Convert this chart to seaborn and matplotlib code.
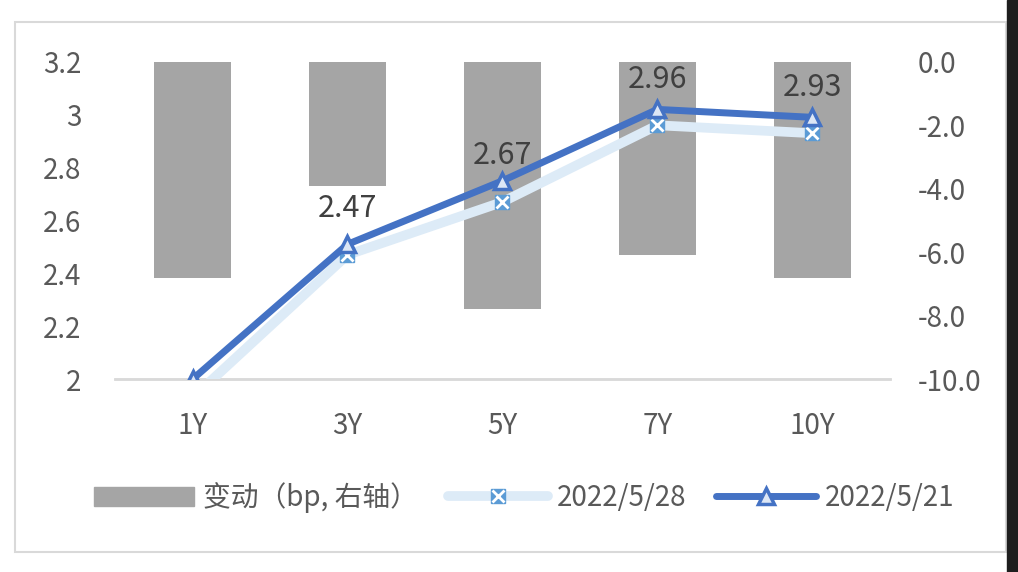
import numpy as np
import pandas as pd
import matplotlib
matplotlib.use("Agg")
import matplotlib.pyplot as plt
from matplotlib.patches import Rectangle
from matplotlib.lines import Line2D
from matplotlib.ticker import FuncFormatter
import seaborn as sns

# data
tenors = ["1Y", "3Y", "5Y", "7Y", "10Y"]
change_bp = [-6.8, -3.9, -7.8, -6.1, -6.8]
yield_0528 = [1.93, 2.47, 2.67, 2.96, 2.93]
yield_0521 = [2.00, 2.51, 2.75, 3.02, 2.99]

BAR_C = "#A5A5A5"
DARK = "#4472C4"
LIGHT = "#DDEBF7"
MID = "#5B9BD5"
TXT = "#595959"

sns.set_style("white")
plt.rcParams['font.family'] = ['Noto Sans CJK SC', 'DejaVu Sans']

df = pd.DataFrame({"tenor": tenors, "change": change_bp,
                   "y0528": yield_0528, "y0521": yield_0521})

fig = plt.figure(figsize=(10.18, 5.72), dpi=100)
ax2 = fig.add_axes([0.113, 0.337, 0.761, 0.555])
ax = ax2.twinx()
ax.yaxis.tick_left()
ax2.yaxis.tick_right()
ax.set_zorder(ax2.get_zorder() + 1)
ax.patch.set_visible(False)

# bars on the right axis
sns.barplot(data=df, x="tenor", y="change", ax=ax2, color=BAR_C,
            width=0.5, saturation=1, edgecolor="none")
ax2.set_ylim(-10, 0)
ax2.set_yticks(np.arange(-10, 0.1, 2))
ax2.yaxis.set_major_formatter(FuncFormatter(lambda v, p: f"{v:.1f}".replace("\u2212", "-")))

# lines on the left axis
x = np.arange(len(tenors))
sns.lineplot(x=x, y=df["y0528"], ax=ax, color=LIGHT, lw=7, zorder=3)
ax.plot(x, yield_0528, ls="none", marker="s", ms=10, mfc=MID, mec=MID, zorder=4)
ax.plot(x, yield_0528, ls="none", marker="x", ms=9, mew=2, color="white", zorder=5)
sns.lineplot(x=x, y=df["y0521"], ax=ax, color=DARK, lw=5, zorder=6)
ax.plot(x, yield_0521, ls="none", marker="^", ms=12, mfc="#DCE6F5", mec=DARK, mew=2.5, zorder=7)

ax.set_ylim(2, 3.2)
ax.set_yticks(np.arange(2, 3.21, 0.2))
ax.yaxis.set_major_formatter(FuncFormatter(lambda v, p: f"{v:.1f}".rstrip("0").rstrip(".")))
ax.set_xlim(-0.5, 4.5)

for i, v in enumerate(yield_0528):
    if v >= 2:
        ax.annotate(f"{v:.2f}", (i, v), xytext=(0, 46), textcoords="offset pixels",
                    ha="center", va="center", fontsize=22, color="#404040", zorder=8)

for a in (ax, ax2):
    for s in ("top", "left", "right"):
        a.spines[s].set_visible(False)
    a.spines["bottom"].set_color("#D9D9D9")
    a.spines["bottom"].set_linewidth(1.8)
    a.tick_params(length=0, labelsize=20, colors=TXT)
    a.set_xlabel("")
    a.set_ylabel("")
ax2.tick_params(axis="x", pad=23)
ax.tick_params(axis="y", pad=24)
ax2.tick_params(axis="y", pad=20)

handles = [
    Rectangle((0, 0), 1, 1, color=BAR_C),
    (Line2D([], [], color=LIGHT, lw=7),
     Line2D([], [], ls="none", marker="s", ms=10, mfc=MID, mec=MID),
     Line2D([], [], ls="none", marker="x", ms=9, mew=2, color="white")),
    (Line2D([], [], color=DARK, lw=5),
     Line2D([], [], ls="none", marker="^", ms=12, mfc="#DCE6F5", mec=DARK, mew=2.5)),
]
labels = ["变动（bp, 右轴）", "2022/5/28", "2022/5/21"]
fig.legend(handles, labels, loc="center", bbox_to_anchor=(0.515, 0.13), ncol=3,
           frameon=False, fontsize=20, labelcolor=TXT, handlelength=3.6,
           handletextpad=0.3, columnspacing=1.1)

# outer frame and the dark strip on the right edge
fig.patches.append(Rectangle((15 / 1018, 1 - 552 / 572), 991 / 1018, 530 / 572,
                             transform=fig.transFigure, fill=False,
                             ec="#D9D9D9", lw=1.5))
fig.patches.append(Rectangle((1007 / 1018, 0), 11 / 1018, 1,
                             transform=fig.transFigure, color="#1E1E1E"))

fig.savefig("out.png", dpi=100)
